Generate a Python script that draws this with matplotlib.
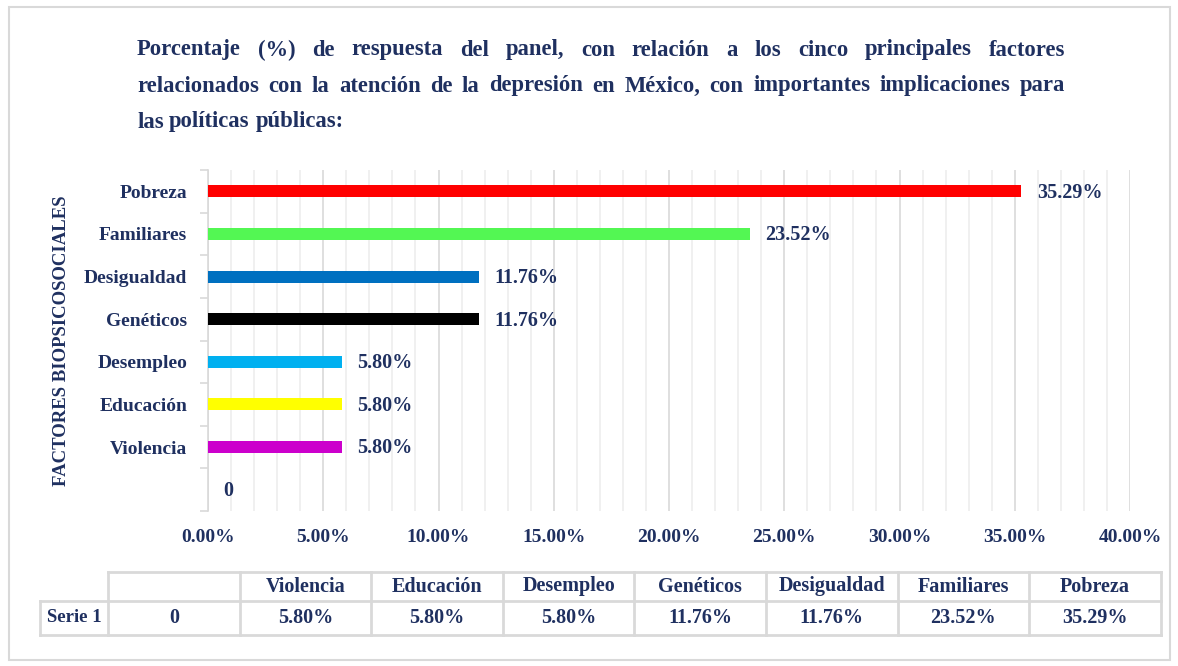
import matplotlib.pyplot as plt
import matplotlib.ticker as mticker
from matplotlib.patches import Rectangle

# Data (bottom to top as drawn)
categories = ["", "Violencia", "Educación", "Desempleo", "Genéticos",
              "Desigualdad", "Familiares", "Pobreza"]
values = [0, 5.80, 5.80, 5.80, 11.76, 11.76, 23.52, 35.29]
bar_colors = ["#FFFFFF", "#CC00CC", "#FFFF00", "#00B0F0", "#000000",
              "#0070C0", "#53F753", "#FF0000"]
series_name = "Serie 1"

title_lines = [
    "Porcentaje (%) de respuesta del panel, con relación a los cinco principales factores",
    "relacionados con la atención de la depresión en México, con importantes implicaciones para",
    "las políticas públicas:",
]
y_title = "FACTORES BIOPSICOSOCIALES"

NAVY = "#1F3060"
GRID_MINOR = "#EEEEEE"
GRID_MAJOR = "#D9D9D9"
FONT = "Liberation Serif"

W, H = 1178, 666
fig = plt.figure(figsize=(W / 100, H / 100), dpi=100)
plt.rcParams['font.family'] = FONT


def fx(px):
    return px / W


def fy(py):
    return 1 - py / H


# Outer border
fig.patches.append(Rectangle((fx(9), fy(660)), fx(1170) - fx(9), fy(7) - fy(660),
                             transform=fig.transFigure, fill=False,
                             edgecolor="#D9D9D9", linewidth=1.5))

# Main axes
ax = fig.add_axes([fx(208), fy(511), fx(1130) - fx(208), fy(170) - fy(511)])
ypos = range(len(categories))
ax.barh(ypos, values, height=0.28, color=bar_colors, zorder=3)
ax.set_xlim(0, 40)
ax.set_ylim(-0.5, len(categories) - 0.5)

ax.xaxis.set_major_locator(mticker.MultipleLocator(5))
ax.xaxis.set_minor_locator(mticker.MultipleLocator(1))
ax.xaxis.set_major_formatter(mticker.FuncFormatter(lambda v, p: f"{v:.2f}%"))
ax.grid(axis="x", which="minor", color=GRID_MINOR, linewidth=1.2, zorder=0)
ax.grid(axis="x", which="major", color=GRID_MAJOR, linewidth=1.2, zorder=0)
ax.tick_params(axis="x", which="both", length=0, pad=13,
               labelsize=14, labelcolor=NAVY)
for lbl in ax.get_xticklabels():
    lbl.set_fontweight("bold")

ax.set_yticks(list(ypos))
ax.set_yticklabels(categories, fontsize=14, fontweight="bold", color=NAVY)
ax.set_yticks([y + 0.5 for y in range(-1, len(categories))], minor=True)
ax.tick_params(axis="y", which="major", length=0, pad=15)
ax.tick_params(axis="y", which="minor", length=6, color=GRID_MAJOR, width=1.2)

for side in ["top", "right", "bottom"]:
    ax.spines[side].set_visible(False)
ax.spines["left"].set_color(GRID_MAJOR)
ax.spines["left"].set_linewidth(1.2)

# Value labels
for y, v in zip(ypos, values):
    txt = "0" if v == 0 else f"{v:.2f}%"
    ax.annotate(txt, (v, y), xytext=(11, -1), textcoords="offset points",
                va="center", ha="left", fontsize=14.5, fontweight="bold",
                color=NAVY)

fig.text(fx(62), fy(341), y_title, rotation=90, ha="center", va="center",
         fontsize=13.5, fontweight="bold", color=NAVY)

# Title, justified
renderer = fig.canvas.get_renderer()
x0, x1 = 137, 1065
line_y = [50, 86, 122]
tsize = 16.3
for i, (line, ly) in enumerate(zip(title_lines, line_y)):
    words = line.split(" ")
    objs = [fig.text(0, fy(ly), w, fontsize=tsize, fontweight="bold", color=NAVY,
                     va="center", ha="left") for w in words]
    widths = [o.get_window_extent(renderer).width for o in objs]
    if i < len(title_lines) - 1:
        gap = (x1 - x0 - sum(widths)) / (len(words) - 1)
    else:
        sp = fig.text(0, 0, "a a", fontsize=tsize, fontweight="bold")
        sa = fig.text(0, 0, "aa", fontsize=tsize, fontweight="bold")
        gap = sp.get_window_extent(renderer).width - sa.get_window_extent(renderer).width
        sp.remove()
        sa.remove()
    x = x0
    for o, w in zip(objs, widths):
        o.set_x(fx(x))
        x += w + gap

# Data table below the chart
col_edges = [108 + 131.6 * k for k in range(len(categories) + 1)]
row_top, row_mid, row_bot = 572, 601, 635
tbl = fig.add_axes([0, 0, 1, 1], facecolor="none")
tbl.set_xlim(0, W)
tbl.set_ylim(H, 0)
tbl.axis("off")
lc = dict(color="#D9D9D9", linewidth=2)
tbl.plot([col_edges[0], col_edges[-1]], [row_top, row_top], **lc)
tbl.plot([40, col_edges[-1]], [row_mid, row_mid], **lc)
tbl.plot([40, col_edges[-1]], [row_bot, row_bot], **lc)
tbl.plot([40, 40], [row_mid, row_bot], **lc)
for e in col_edges:
    tbl.plot([e, e], [row_top, row_bot], **lc)
tbl.text((40 + col_edges[0]) / 2, (row_mid + row_bot) / 2, series_name,
         ha="center", va="center", fontsize=13.5, fontweight="bold", color=NAVY)
for k, (cat, v) in enumerate(zip(categories, values)):
    cx = (col_edges[k] + col_edges[k + 1]) / 2
    tbl.text(cx, (row_top + row_mid) / 2, cat, ha="center", va="center",
             fontsize=14.5, fontweight="bold", color=NAVY)
    tbl.text(cx, (row_mid + row_bot) / 2, "0" if v == 0 else f"{v:.2f}%",
             ha="center", va="center", fontsize=14.5, fontweight="bold",
             color=NAVY)

fig.savefig("out.png", dpi=100)
